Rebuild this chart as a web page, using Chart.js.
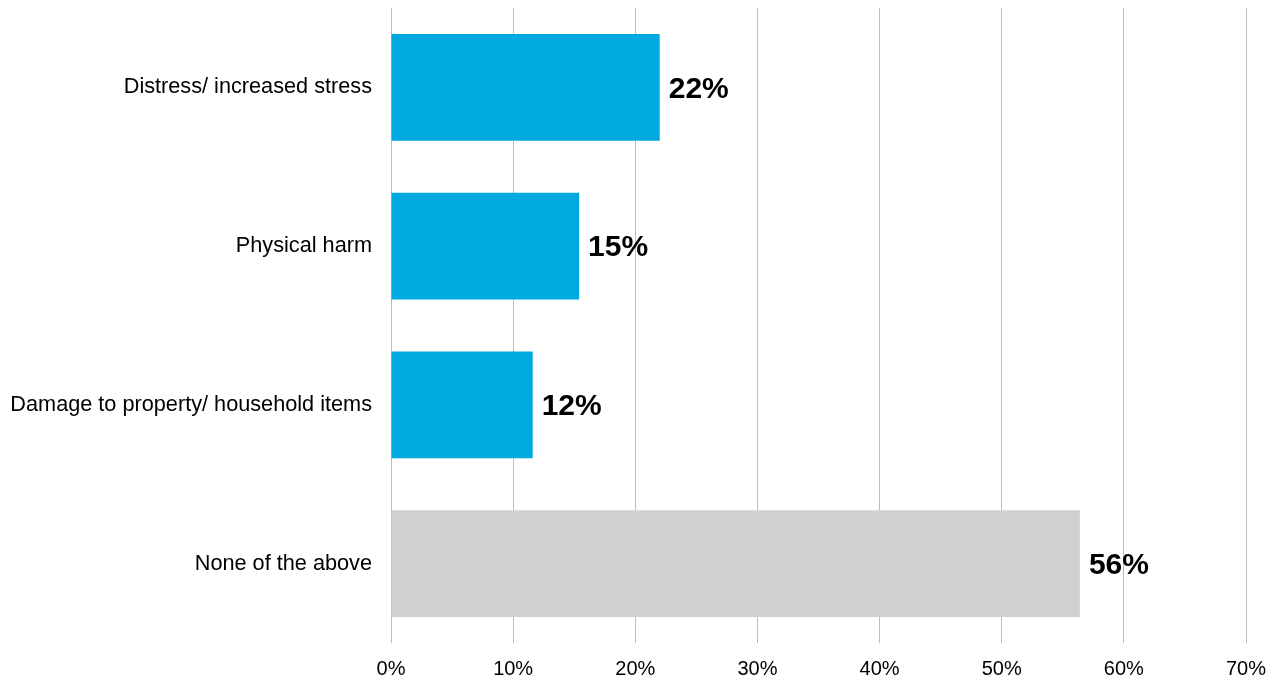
<!DOCTYPE html>
<html>
<head>
<meta charset="utf-8">
<script src="https://cdn.jsdelivr.net/npm/chart.js@4/dist/chart.umd.min.js"></script>
<style>
  html, body { margin: 0; padding: 0; background: #ffffff; }
  #wrap { width: 1274px; height: 680px; position: relative; }
</style>
</head>
<body>
<div id="wrap"><canvas id="chart" width="1274" height="680"></canvas></div>
<script>
// Reported consequences, share of respondents (%)
const categories = [
  'Distress/ increased stress',
  'Physical harm',
  'Damage to property/ household items',
  'None of the above'
];
const shares = [22.0, 15.4, 11.6, 56.4];
const barColors = ['#00a9e0', '#00a9e0', '#00a9e0', '#d0d0d0'];
const xTicks = [0, 10, 20, 30, 40, 50, 60, 70];

// Bold percentage written just past the end of each bar
const valueLabels = {
  id: 'valueLabels',
  afterDatasetsDraw(chart) {
    const ctx = chart.ctx;
    const meta = chart.getDatasetMeta(0);
    ctx.save();
    ctx.font = 'bold 30px "Liberation Sans", Arial, sans-serif';
    ctx.fillStyle = '#000000';
    ctx.textAlign = 'left';
    ctx.textBaseline = 'middle';
    meta.data.forEach((bar, i) => {
      const v = chart.data.datasets[0].data[i];
      ctx.fillText(Math.round(v) + '%', bar.x + 9, bar.y + 2);
    });
    ctx.restore();
  }
};

function clearPadding(scale) {
  scale.paddingTop = 0;
  scale.paddingBottom = 0;
  scale.paddingLeft = 0;
  scale.paddingRight = 0;
}

new Chart(document.getElementById('chart'), {
  type: 'bar',
  data: {
    labels: categories,
    datasets: [{
      data: shares,
      backgroundColor: barColors,
      borderWidth: 0,
      barPercentage: 0.672,
      categoryPercentage: 1.0
    }]
  },
  options: {
    indexAxis: 'y',
    responsive: false,
    animation: false,
    layout: { padding: { top: 8, right: 28, left: 0, bottom: 0 } },
    plugins: {
      legend: { display: false },
      tooltip: { enabled: false }
    },
    scales: {
      x: {
        min: 0,
        max: 70,
        afterBuildTicks(scale) {
          scale.ticks = xTicks.map(v => ({ value: v }));
        },
        afterFit(scale) { scale.height = 37; clearPadding(scale); },
        grid: {
          color: '#bdbdbd',
          lineWidth: 1,
          drawTicks: false
        },
        border: { display: false },
        ticks: {
          padding: 14,
          color: '#000000',
          font: { family: '"Liberation Sans", Arial, sans-serif', size: 20 },
          callback: v => v + '%'
        }
      },
      y: {
        afterFit(scale) { scale.width = 391; clearPadding(scale); },
        grid: { display: false, drawTicks: false },
        border: { display: false },
        ticks: {
          padding: 19,
          color: '#000000',
          font: { family: '"Liberation Sans", Arial, sans-serif', size: 21.7 }
        }
      }
    }
  },
  plugins: [valueLabels]
});
</script>
</body>
</html>
